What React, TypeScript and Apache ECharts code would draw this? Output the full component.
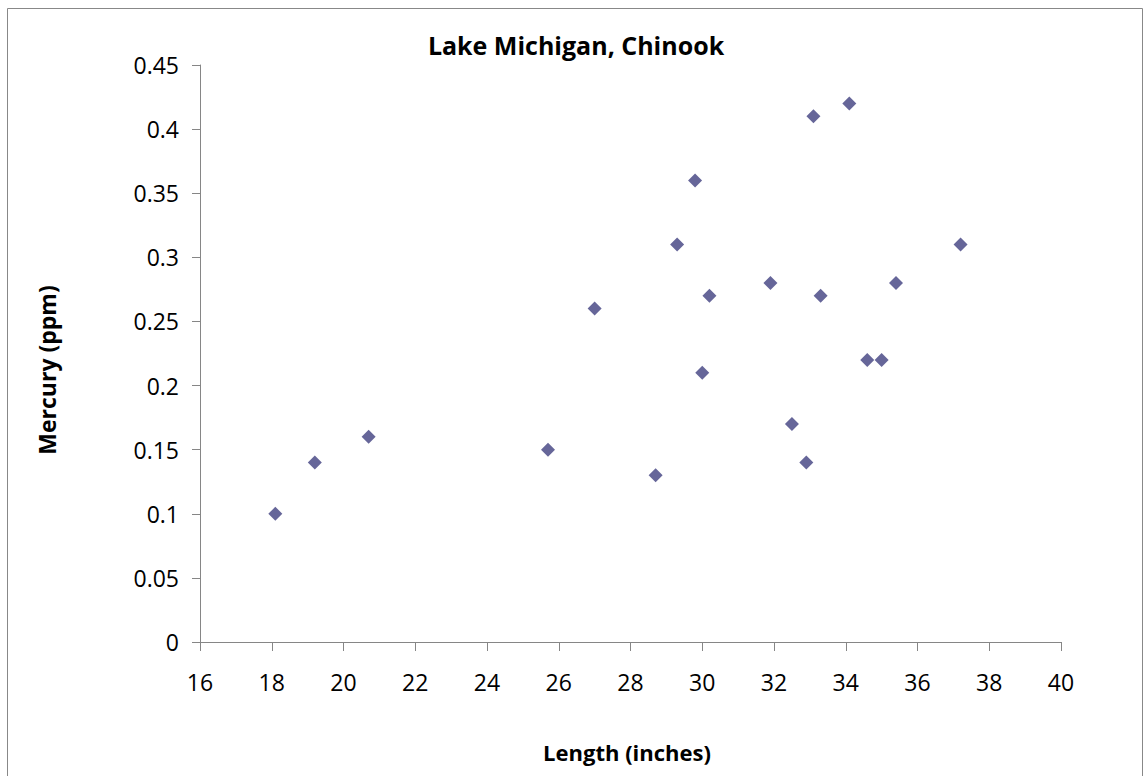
import React, { useEffect, useRef } from "react";
import * as echarts from "echarts";

const lengths = [18.1, 19.2, 20.7, 25.7, 27.0, 28.7, 29.3, 29.8, 30.0, 30.2, 31.9, 32.5, 32.9, 33.1, 33.3, 34.1, 34.6, 35.0, 35.4, 37.2];
const mercury = [0.10, 0.14, 0.16, 0.15, 0.26, 0.13, 0.31, 0.36, 0.21, 0.27, 0.28, 0.17, 0.14, 0.41, 0.27, 0.42, 0.22, 0.22, 0.28, 0.31];

const title = "Lake Michigan, Chinook";
const xName = "Length (inches)";
const yName = "Mercury (ppm)";

const FONT = "'Open Sans', 'Noto Sans', sans-serif";

export default function App() {
  const ref = useRef<HTMLDivElement>(null);
  useEffect(() => {
    if (!ref.current) return;
    const chart = echarts.init(ref.current, undefined, { renderer: "svg" });
    const data = lengths.map((x, i) => [x, mercury[i]]);
    chart.setOption({
      animation: false,
      backgroundColor: "#ffffff",
      textStyle: { fontFamily: FONT },
      graphic: [
        {
          type: "rect",
          left: 5,
          top: 6,
          shape: { x: 0, y: 0, width: 1135, height: 790 },
          style: { fill: "none", stroke: "#888888", lineWidth: 1 },
          silent: true,
        },
        {
          type: "text",
          x: 576,
          y: 45,
          style: { text: title, font: `bold 25px ${FONT}`, fill: "#000", align: "center", verticalAlign: "middle" },
        },
        {
          type: "text",
          x: 627,
          y: 752,
          style: { text: xName, font: `bold 22px ${FONT}`, fill: "#000", align: "center", verticalAlign: "middle" },
        },
        {
          type: "text",
          x: 47,
          y: 370,
          rotation: Math.PI / 2,
          style: { text: yName, font: `bold 23px ${FONT}`, fill: "#000", align: "center", verticalAlign: "middle" },
        },
      ],
      grid: { left: 200, right: 82, top: 65, bottom: 134, containLabel: false },
      xAxis: {
        type: "value",
        min: 16,
        max: 40,
        interval: 2,
        splitLine: { show: false },
        axisLine: { show: true, onZero: false, lineStyle: { color: "#868686", width: 1 } },
        axisTick: { show: true, length: 9, lineStyle: { color: "#868686" } },
        axisLabel: { margin: 28, fontSize: 23, color: "#000", fontFamily: FONT },
      },
      yAxis: {
        type: "value",
        min: 0,
        max: 0.45,
        interval: 0.05,
        splitLine: { show: false },
        axisLine: { show: true, lineStyle: { color: "#868686", width: 1 } },
        axisTick: { show: true, length: 8, lineStyle: { color: "#868686" } },
        axisLabel: {
          margin: 21,
          fontSize: 23,
          color: "#000",
          fontFamily: FONT,
          formatter: (v: number) => String(+v.toFixed(2)),
        },
      },
      series: [
        {
          type: "scatter",
          data,
          symbol: "diamond",
          symbolSize: 14,
          itemStyle: { color: "#666699", opacity: 1 },
        },
      ],
    });
    return () => chart.dispose();
  }, []);
  return <div ref={ref} style={{ position: "fixed", left: 0, top: 0, width: 1143, height: 776 }} />;
}
